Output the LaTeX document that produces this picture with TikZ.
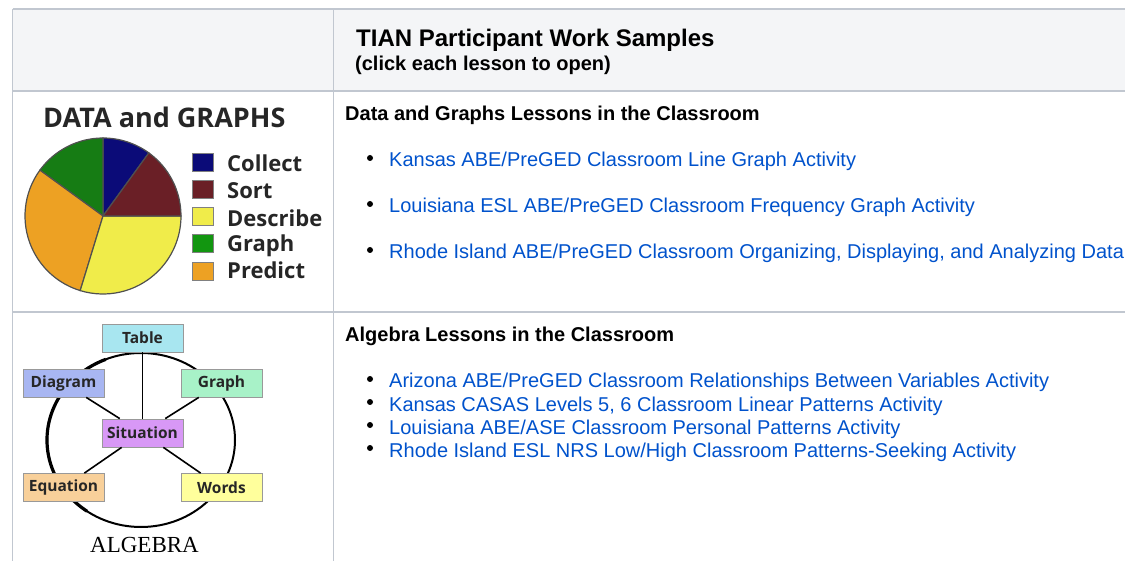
\documentclass[tikz,border=0pt]{standalone}
\usepackage{fontspec}
\setmainfont{Liberation Sans}
\newfontfamily\chartfont{Open Sans}
\newfontfamily\algfont{Liberation Serif}

\definecolor{tablerule}{HTML}{C1C7D0}
\definecolor{headbg}{HTML}{F4F5F7}
\definecolor{linkblue}{HTML}{0052CC}
\definecolor{collect}{HTML}{0B0B78}
\definecolor{sort}{HTML}{6A1F26}
\definecolor{describe}{HTML}{F0EC4A}
\definecolor{graphgreen}{HTML}{167C14}
\definecolor{predict}{HTML}{EDA123}
\definecolor{pieline}{HTML}{505050}
\definecolor{tablebox}{HTML}{A8E6F0}
\definecolor{diagrambox}{HTML}{A8B6F2}
\definecolor{graphbox}{HTML}{A8F2C8}
\definecolor{sitbox}{HTML}{D898F6}
\definecolor{eqbox}{HTML}{F8D09A}
\definecolor{wordsbox}{HTML}{FFFF9C}

\tikzset{
  txt/.style={anchor=base west, inner sep=0pt},
  head/.style={txt, font=\bfseries\fontsize{20}{22}\selectfont},
  link/.style={txt, text=linkblue, font=\fontsize{20}{22}\selectfont},
  legend/.style={txt, font=\chartfont\bfseries\fontsize{22}{24}\selectfont, text=black!85},
  algbox/.style={draw=gray!80, line width=0.8pt, minimum width=81pt, minimum height=28pt,
    inner sep=0pt, font=\chartfont\bfseries\fontsize{15.5}{17}\selectfont, text=black!85},
}

\begin{document}
\begin{tikzpicture}[x=1pt, y=-1pt]
        \useasboundingbox (0,0) rectangle (1125,561);

        % table
        \fill[headbg] (12.5,9) rectangle (1125,91);
        \draw[tablerule, line width=1.5pt] (12.5,9) -- (1125,9);
        \draw[tablerule, line width=1.5pt] (12.5,91) -- (1125,91);
        \draw[tablerule, line width=1.5pt] (12.5,312) -- (1125,312);
        \draw[tablerule, line width=1.5pt] (12.5,9) -- (12.5,561);
        \draw[tablerule, line width=1.5pt] (333.5,9) -- (333.5,561);

        \node[txt, font=\bfseries\fontsize{24}{26}\selectfont] (title) at (356,47) {TIAN Participant Work Samples};
        \node[head] (subtitle) at (355,71) {(click each lesson to open)};

        % data and graphs row
        \node[head] (datahead) at (345,121) {Data and Graphs Lessons in the Classroom};
        \fill (370,158) circle (3);
        \fill (370,204) circle (3);
        \fill (370,250) circle (3);
        \node[link] (data1) at (389,167) {Kansas ABE/PreGED Classroom Line Graph Activity};
        \node[link] (data2) at (389,213) {Louisiana ESL ABE/PreGED Classroom Frequency Graph Activity};
        \node[link] (data3) at (389,259) {Rhode Island ABE/PreGED Classroom Organizing, Displaying, and Analyzing Data};

        % algebra row
        \node[head] (alghead) at (345,342) {Algebra Lessons in the Classroom};
        \fill (370,379) circle (3);
        \fill (370,402) circle (3);
        \fill (370,425) circle (3);
        \fill (370,448) circle (3);
        \node[link] (alg1) at (389,388) {Arizona ABE/PreGED Classroom Relationships Between Variables Activity};
        \node[link] (alg2) at (389,411) {Kansas CASAS Levels 5, 6 Classroom Linear Patterns Activity};
        \node[link] (alg3) at (389,434) {Louisiana ABE/ASE Classroom Personal Patterns Activity};
        \node[link] (alg4) at (389,457) {Rhode Island ESL NRS Low/High Classroom Patterns-Seeking Activity};

        % pie chart
        \node[txt, font=\chartfont\bfseries\fontsize{27}{29}\selectfont, text=black!85] (pietitle) at (43,128) {DATA and GRAPHS};
        \filldraw[fill=collect, draw=pieline, line width=1.2pt] (103,216) -- ++(-54:78) arc (-54:-90:78) -- cycle;
        \filldraw[fill=graphgreen, draw=pieline, line width=1.2pt] (103,216) -- ++(-90:78) arc (-90:-144:78) -- cycle;
        \filldraw[fill=predict, draw=pieline, line width=1.2pt] (103,216) -- ++(-144:78) arc (-144:-253:78) -- cycle;
        \filldraw[fill=describe, draw=pieline, line width=1.2pt] (103,216) -- ++(-253:78) arc (-253:-360:78) -- cycle;
        \filldraw[fill=sort, draw=pieline, line width=1.2pt] (103,216) -- ++(0:78) arc (0:-54:78) -- cycle;

        \filldraw[fill=collect, draw=gray, line width=0.6pt] (192,153) rectangle (213,171);
        \filldraw[fill=sort, draw=gray, line width=0.6pt] (192,180) rectangle (213,198);
        \filldraw[fill=describe, draw=gray, line width=0.6pt] (192,207) rectangle (213,225);
        \filldraw[fill=graphgreen!80!green, draw=gray, line width=0.6pt] (192,234) rectangle (213,252);
        \filldraw[fill=predict, draw=gray, line width=0.6pt] (192,262) rectangle (213,280);
        \node[legend] (lcollect) at (227,172) {Collect};
        \node[legend] (lsort) at (227,199) {Sort};
        \node[legend] (ldescribe) at (227,227) {Describe};
        \node[legend] (lgraph) at (227,252) {Graph};
        \node[legend] (lpredict) at (227,279) {Predict};

        % algebra diagram
        \draw[black, line width=2pt] (141,440) ellipse (94 and 87);
        \draw[black, line width=3.2pt] (141,440) ++(-112:94 and 87) arc (-112:-235:94 and 87);
        \node[algbox, fill=tablebox] (table) at (142.5,338) {Table};
        \node[algbox, fill=diagrambox] (diagram) at (63.5,383) {Diagram};
        \node[algbox, fill=graphbox] (graph) at (221.5,383) {Graph};
        \node[algbox, fill=sitbox] (situation) at (142.5,433) {Situation};
        \node[algbox, fill=eqbox] (equation) at (63.5,487.5) {Equation};
        \node[algbox, fill=wordsbox] (words) at (221.5,487.5) {Words};
        \draw[line width=1.6pt] (situation) -- (table);
        \draw[line width=1.6pt] (situation) -- (diagram);
        \draw[line width=1.6pt] (situation) -- (graph);
        \draw[line width=1.6pt] (situation) -- (equation);
        \draw[line width=1.6pt] (situation) -- (words);
        \node[txt, font=\algfont\fontsize{23}{25}\selectfont] (algname) at (90,552) {ALGEBRA};
    \end{tikzpicture}
\end{document}
